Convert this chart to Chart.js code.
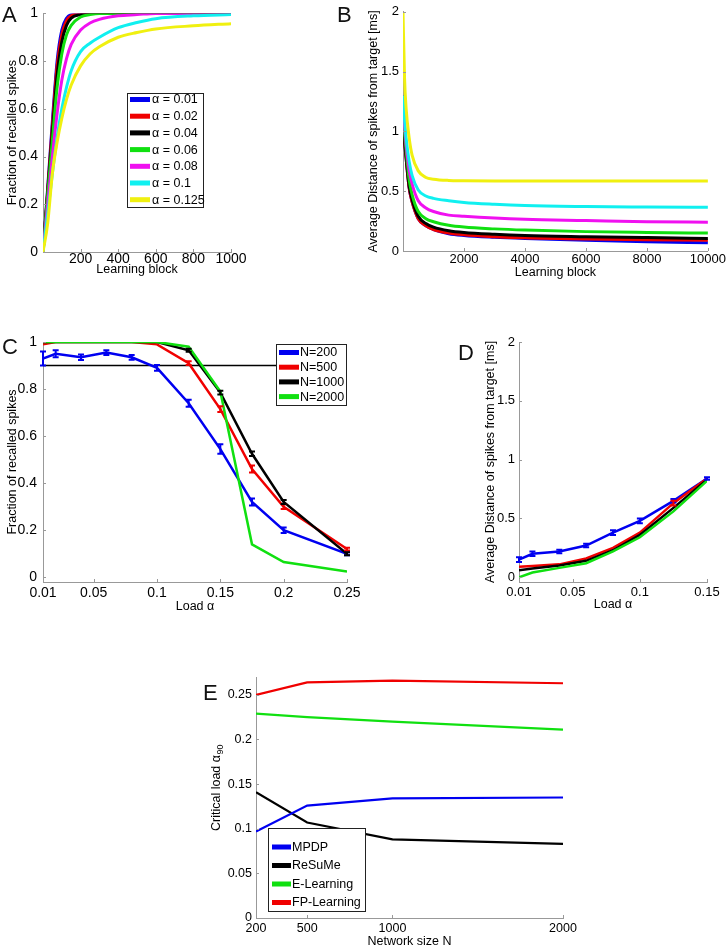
<!DOCTYPE html>
<html>
<head>
<meta charset="utf-8">
<script src="https://cdn.jsdelivr.net/npm/chart.js@4.4.1/dist/chart.umd.min.js"></script>
<style>
  body { margin: 0; background: #fff; }
  #wrap { position: relative; width: 727px; height: 946px; }
  #wrap canvas { position: absolute; left: 0; top: 0; }
  .tag { position: absolute; font: 22px "Liberation Sans", Arial, sans-serif; line-height: 1; color: #111; }
</style>
</head>
<body>
<div id="wrap">
  <canvas id="cA" width="727" height="946"></canvas>
  <canvas id="cB" width="727" height="946"></canvas>
  <canvas id="cC" width="727" height="946"></canvas>
  <canvas id="cD" width="727" height="946"></canvas>
  <canvas id="cE" width="727" height="946"></canvas>
  <div class="tag" style="left:2px;top:4px">A</div>
  <div class="tag" style="left:337px;top:4px">B</div>
  <div class="tag" style="left:2px;top:336px">C</div>
  <div class="tag" style="left:458px;top:342px">D</div>
  <div class="tag" style="left:203px;top:682px">E</div>
</div>
<script>
// ---- data ----
const colors = ['#0000f0', '#f00000', '#000000', '#10e010', '#f010f0', '#10f0f0', '#f0f010'];

// A: fraction of recalled spikes vs learning block
const alphaLabels = ['α = 0.01', 'α = 0.02', 'α = 0.04', 'α = 0.06', 'α = 0.08', 'α = 0.1', 'α = 0.125'];
const blocksA = [0, 25, 50, 75, 100, 125, 150, 200, 250, 300, 400, 500, 600, 800, 1000];
const recallA = [
  [0, 0.27, 0.55, 0.8, 0.93, 0.98, 0.995, 1, 1, 1, 1, 1, 1, 1, 1],
  [0, 0.26, 0.53, 0.78, 0.91, 0.97, 0.99, 0.998, 1, 1, 1, 1, 1, 1, 1],
  [0, 0.25, 0.5, 0.74, 0.88, 0.95, 0.98, 0.995, 1, 1, 1, 1, 1, 1, 1],
  [0, 0.24, 0.47, 0.69, 0.83, 0.91, 0.95, 0.985, 0.995, 1, 1, 1, 1, 1, 1],
  [0, 0.2, 0.4, 0.58, 0.72, 0.81, 0.87, 0.93, 0.96, 0.975, 0.99, 0.995, 1, 1, 1],
  [0, 0.16, 0.33, 0.48, 0.6, 0.69, 0.76, 0.84, 0.875, 0.9, 0.94, 0.962, 0.978, 0.99, 0.995],
  [0, 0.12, 0.33, 0.46, 0.56, 0.64, 0.7, 0.78, 0.83, 0.86, 0.9, 0.92, 0.935, 0.948, 0.957]
];
const xTicksA = [200, 400, 600, 800, 1000];
const yTicksA = [0, 0.2, 0.4, 0.6, 0.8, 1];

// B: average distance vs learning block
const blocksB = [0, 50, 100, 200, 300, 500, 750, 1000, 1500, 2000, 3000, 4000, 6000, 8000, 10000];
const distB = [
  [1.3, 0.93, 0.78, 0.53, 0.41, 0.27, 0.21, 0.18, 0.145, 0.13, 0.115, 0.105, 0.09, 0.078, 0.068],
  [1.3, 0.93, 0.78, 0.53, 0.41, 0.27, 0.21, 0.18, 0.15, 0.135, 0.12, 0.11, 0.1, 0.095, 0.09],
  [1.3, 0.95, 0.8, 0.55, 0.43, 0.29, 0.23, 0.2, 0.17, 0.155, 0.14, 0.13, 0.12, 0.112, 0.105],
  [1.3, 1.0, 0.85, 0.6, 0.47, 0.33, 0.27, 0.245, 0.215, 0.2, 0.185, 0.175, 0.162, 0.155, 0.15],
  [1.3, 1.05, 0.9, 0.68, 0.56, 0.42, 0.36, 0.33, 0.3, 0.29, 0.275, 0.265, 0.255, 0.245, 0.24],
  [1.3, 1.1, 0.95, 0.75, 0.63, 0.51, 0.46, 0.44, 0.42, 0.405, 0.39, 0.38, 0.372, 0.368, 0.365],
  [2.0, 1.45, 1.2, 0.95, 0.8, 0.67, 0.615, 0.6, 0.59, 0.588, 0.586, 0.585, 0.585, 0.585, 0.585]
];
const xTicksB = [2000, 4000, 6000, 8000, 10000];
const yTicksB = [0, 0.5, 1, 1.5, 2];

// C: fraction recalled vs load, per network size
const sizeLabels = ['N=200', 'N=500', 'N=1000', 'N=2000'];
const loadC = [0.01, 0.02, 0.04, 0.06, 0.08, 0.1, 0.125, 0.15, 0.175, 0.2, 0.25];
const recallC = [
  [0.93, 0.95, 0.935, 0.955, 0.935, 0.89, 0.74, 0.545, 0.32, 0.2, 0.1],
  [0.99, 1, 1, 1, 1, 0.99, 0.91, 0.715, 0.46, 0.3, 0.12],
  [1, 1, 1, 1, 1, 1, 0.965, 0.785, 0.525, 0.32, 0.1],
  [1, 1, 1, 1, 1, 1, 0.98, 0.79, 0.14, 0.065, 0.025]
];
const errC = [
  [0.03, 0.015, 0.012, 0.01, 0.01, 0.012, 0.015, 0.02, 0.015, 0.012, 0.006],
  [0, 0, 0, 0, 0, 0, 0.008, 0.012, 0.015, 0.01, 0.006],
  [0, 0, 0, 0, 0, 0, 0.006, 0.008, 0.01, 0.008, 0.006],
  [0, 0, 0, 0, 0, 0, 0, 0, 0, 0, 0]
];
const thresholdC = 0.9;
const xTicksC = [0.01, 0.05, 0.1, 0.15, 0.2, 0.25];
const yTicksC = [0, 0.2, 0.4, 0.6, 0.8, 1];

// D: average distance vs load
const loadD = [0.01, 0.02, 0.04, 0.06, 0.08, 0.1, 0.125, 0.15];
const distD = [
  [0.15, 0.2, 0.22, 0.27, 0.38, 0.48, 0.65, 0.84],
  [0.09, 0.095, 0.11, 0.16, 0.25, 0.38, 0.63, 0.84],
  [0.06, 0.075, 0.1, 0.14, 0.23, 0.36, 0.59, 0.83],
  [0.0, 0.04, 0.08, 0.12, 0.22, 0.34, 0.56, 0.82]
];
const errD = [
  [0.02, 0.02, 0.015, 0.015, 0.02, 0.02, 0.015, 0.01],
  [0, 0, 0, 0, 0, 0, 0.02, 0],
  [0, 0, 0, 0, 0, 0, 0, 0],
  [0, 0, 0, 0, 0, 0, 0, 0]
];
const xTicksD = [0.01, 0.05, 0.1, 0.15];
const yTicksD = [0, 0.5, 1, 1.5, 2];

// E: critical load vs network size
const ruleLabels = ['MPDP', 'ReSuMe', 'E-Learning', 'FP-Learning'];
const ruleColors = ['#0000f0', '#000000', '#10e010', '#f00000'];
const sizesE = [200, 500, 1000, 2000];
const critE = [
  [0.097, 0.126, 0.134, 0.135],
  [0.141, 0.107, 0.088, 0.083],
  [0.229, 0.225, 0.22, 0.211],
  [0.25, 0.264, 0.266, 0.263]
];
const xTicksE = [200, 500, 1000, 2000];
const yTicksE = [0, 0.05, 0.1, 0.15, 0.2, 0.25];

// ---- plugins ----
const FONT = '"Liberation Sans", Arial, sans-serif';
Chart.defaults.font.family = FONT;
Chart.defaults.font.size = 13;
Chart.defaults.color = '#000';

const tickMarks = {
  id: 'tickMarks',
  afterDraw(chart) {
    const ctx = chart.ctx, a = chart.chartArea;
    ctx.save();
    ctx.strokeStyle = '#999';
    ctx.lineWidth = 1;
    chart.scales.x.ticks.forEach(t => {
      const p = Math.round(chart.scales.x.getPixelForValue(t.value)) + 0.5;
      ctx.beginPath(); ctx.moveTo(p, a.bottom); ctx.lineTo(p, a.bottom - 3); ctx.stroke();
    });
    chart.scales.y.ticks.forEach(t => {
      const p = Math.round(chart.scales.y.getPixelForValue(t.value)) + 0.5;
      ctx.beginPath(); ctx.moveTo(a.left, p); ctx.lineTo(a.left + 3, p); ctx.stroke();
    });
    ctx.restore();
  }
};

const errorBars = {
  id: 'errorBars',
  afterDatasetsDraw(chart) {
    const ctx = chart.ctx, xs = chart.scales.x, ys = chart.scales.y;
    ctx.save();
    chart.data.datasets.forEach(ds => {
      if (!ds.errors) return;
      ctx.strokeStyle = ds.borderColor;
      ctx.lineWidth = 2;
      ds.data.forEach((pt, i) => {
        const e = ds.errors[i];
        if (!e) return;
        const x = xs.getPixelForValue(pt.x);
        const y1 = ys.getPixelForValue(pt.y - e), y2 = ys.getPixelForValue(pt.y + e);
        ctx.beginPath();
        ctx.moveTo(x, y1); ctx.lineTo(x, y2);
        ctx.moveTo(x - 3, y1); ctx.lineTo(x + 3, y1);
        ctx.moveTo(x - 3, y2); ctx.lineTo(x + 3, y2);
        ctx.stroke();
      });
    });
    ctx.restore();
  }
};

const boxLegend = {
  id: 'boxLegend',
  afterDatasetsDraw(chart, args, o) {
    if (!o || o.x === undefined) return;
    const ctx = chart.ctx;
    ctx.save();
    ctx.fillStyle = '#fff';
    ctx.fillRect(o.x, o.y, o.w, o.h);
    ctx.strokeStyle = '#222';
    ctx.lineWidth = 1;
    ctx.strokeRect(o.x + 0.5, o.y + 0.5, o.w, o.h);
    ctx.font = o.size + 'px ' + FONT;
    ctx.textBaseline = 'middle';
    let i = 0;
    chart.data.datasets.forEach(ds => {
      if (!ds.label) return;
      const cy = o.y + o.y0 + i * o.dy;
      ctx.fillStyle = ds.borderColor;
      ctx.fillRect(o.x + o.sx, cy - 2.5, o.sw, 5);
      ctx.fillStyle = '#000';
      ctx.fillText(ds.label, o.x + o.tx, cy + 0.5);
      i++;
    });
    ctx.restore();
  }
};

// vertical axis title with a subscript (panel E)
const subTitleY = {
  id: 'subTitleY',
  afterDraw(chart, args, o) {
    if (!o || o.text === undefined) return;
    const ctx = chart.ctx;
    ctx.save();
    ctx.translate(o.x, o.y);
    ctx.rotate(-Math.PI / 2);
    ctx.fillStyle = '#000';
    ctx.textBaseline = 'middle';
    ctx.font = o.size + 'px ' + FONT;
    const w1 = ctx.measureText(o.text).width;
    ctx.font = o.subSize + 'px ' + FONT;
    const w2 = ctx.measureText(o.sub).width;
    const x0 = -(w1 + w2) / 2;
    ctx.font = o.size + 'px ' + FONT;
    ctx.fillText(o.text, x0, 0);
    ctx.font = o.subSize + 'px ' + FONT;
    ctx.fillText(o.sub, x0 + w1 + 0.5, 3.5);
    ctx.restore();
  }
};

Chart.register(tickMarks, errorBars, boxLegend, subTitleY);

function series(xs, ys, label, color, lw, extra) {
  return Object.assign({
    label: label,
    data: xs.map((x, i) => ({ x: x, y: ys[i] })),
    borderColor: color,
    backgroundColor: color,
    borderWidth: lw,
    pointRadius: 0,
    fill: false
  }, extra || {});
}

function axis(min, max, ticks, title, size, pad, fs) {
  return {
    type: 'linear', min: min, max: max,
    afterBuildTicks: s => { s.ticks = ticks.map(v => ({ value: v })); },
    grid: { drawOnChartArea: false, drawTicks: false },
    border: { color: '#999', width: 1 },
    ticks: { padding: pad, autoSkip: false, maxRotation: 0, font: { size: fs }, callback: v => String(v) },
    title: { display: title !== '', text: title, font: { size: 12.5 }, padding: 0 },
    afterFit: s => { if (s.isHorizontal()) s.height = size; else s.width = size; }
  };
}

function panel(id, datasets, p) {
  return new Chart(document.getElementById(id), {
    type: 'line',
    data: { datasets: datasets },
    options: {
      responsive: false,
      animation: false,
      events: [],
      layout: { padding: { left: p.pl, right: 727 - p.right, top: p.top, bottom: p.pb } },
      plugins: {
        legend: { display: false }, tooltip: { enabled: false },
        boxLegend: p.legend || {}, subTitleY: p.subTitle || {}
      },
      scales: { x: p.x, y: p.y }
    }
  });
}

// A
panel('cA', alphaLabels.map((l, i) => series(blocksA, recallA[i], l, colors[i], 3, { cubicInterpolationMode: 'monotone', order: -i })), {
  pl: 5.5, right: 231, top: 13, pb: 669,
  x: axis(0, 1000, xTicksA, 'Learning block', 25, -1.5, 14),
  y: axis(0, 1, yTicksA, 'Fraction of recalled spikes', 37.5, 5, 14),
  legend: { x: 127, y: 93, w: 76, h: 114, y0: 6.5, dy: 16.7, sx: 3, sw: 20, tx: 25, size: 12.5 }
});

// B
panel('cB', alphaLabels.map((l, i) => series(blocksB, distB[i], l, colors[i], 3, { cubicInterpolationMode: 'monotone', order: -i })), {
  pl: 366, right: 708, top: 10, pb: 665.5,
  x: axis(0, 10000, xTicksB, 'Learning block', 29.5, 1, 13),
  y: axis(0, 2, yTicksB, 'Average Distance of spikes from target [ms]', 37, 4, 13)
});

// C
const dsC = sizeLabels.map((l, i) => series(loadC, recallC[i], l, colors[i], 2.5, { errors: errC[i], order: -i }));
dsC.push(series([loadC[0], loadC[loadC.length - 1]], [thresholdC, thresholdC], '', '#000', 1.5, { order: 5 }));
panel('cC', dsC, {
  pl: 5.5, right: 347, top: 342, pb: 331.5,
  x: axis(0.01, 0.25, xTicksC, 'Load α', 32.5, 2.5, 14),
  y: axis(-0.02, 1, yTicksC, 'Fraction of recalled spikes', 37.5, 6, 14),
  legend: { x: 276, y: 344, w: 70, h: 61, y0: 8.5, dy: 14.7, sx: 3, sw: 20, tx: 24, size: 12.5 }
});

// D
panel('cD', sizeLabels.map((l, i) => series(loadD, distD[i], l, colors[i], 2.5, { errors: errD[i], order: -i })), {
  pl: 483.5, right: 707, top: 342, pb: 333.5,
  x: axis(0.01, 0.15, xTicksD, 'Load α', 30.5, 3, 13),
  y: axis(-0.04, 2, yTicksD, 'Average Distance of spikes from target [ms]', 35.5, 4, 13)
});

// E
panel('cE', ruleLabels.map((l, i) => series(sizesE, critE[i], l, ruleColors[i], 2.2)), {
  pl: 209.5, right: 563, top: 677, pb: -3,
  x: axis(200, 2000, xTicksE, 'Network size N', 31, 3, 12.5),
  y: axis(0, 0.27, yTicksE, '', 46.5, 4, 12.5),
  subTitle: { text: 'Critical load α', sub: '90', x: 217, y: 788, size: 12.5, subSize: 9 },
  legend: { x: 268, y: 828, w: 97, h: 83, y0: 19, dy: 18.5, sx: 4, sw: 19, tx: 24, size: 12.5 }
});
</script>
</body>
</html>
